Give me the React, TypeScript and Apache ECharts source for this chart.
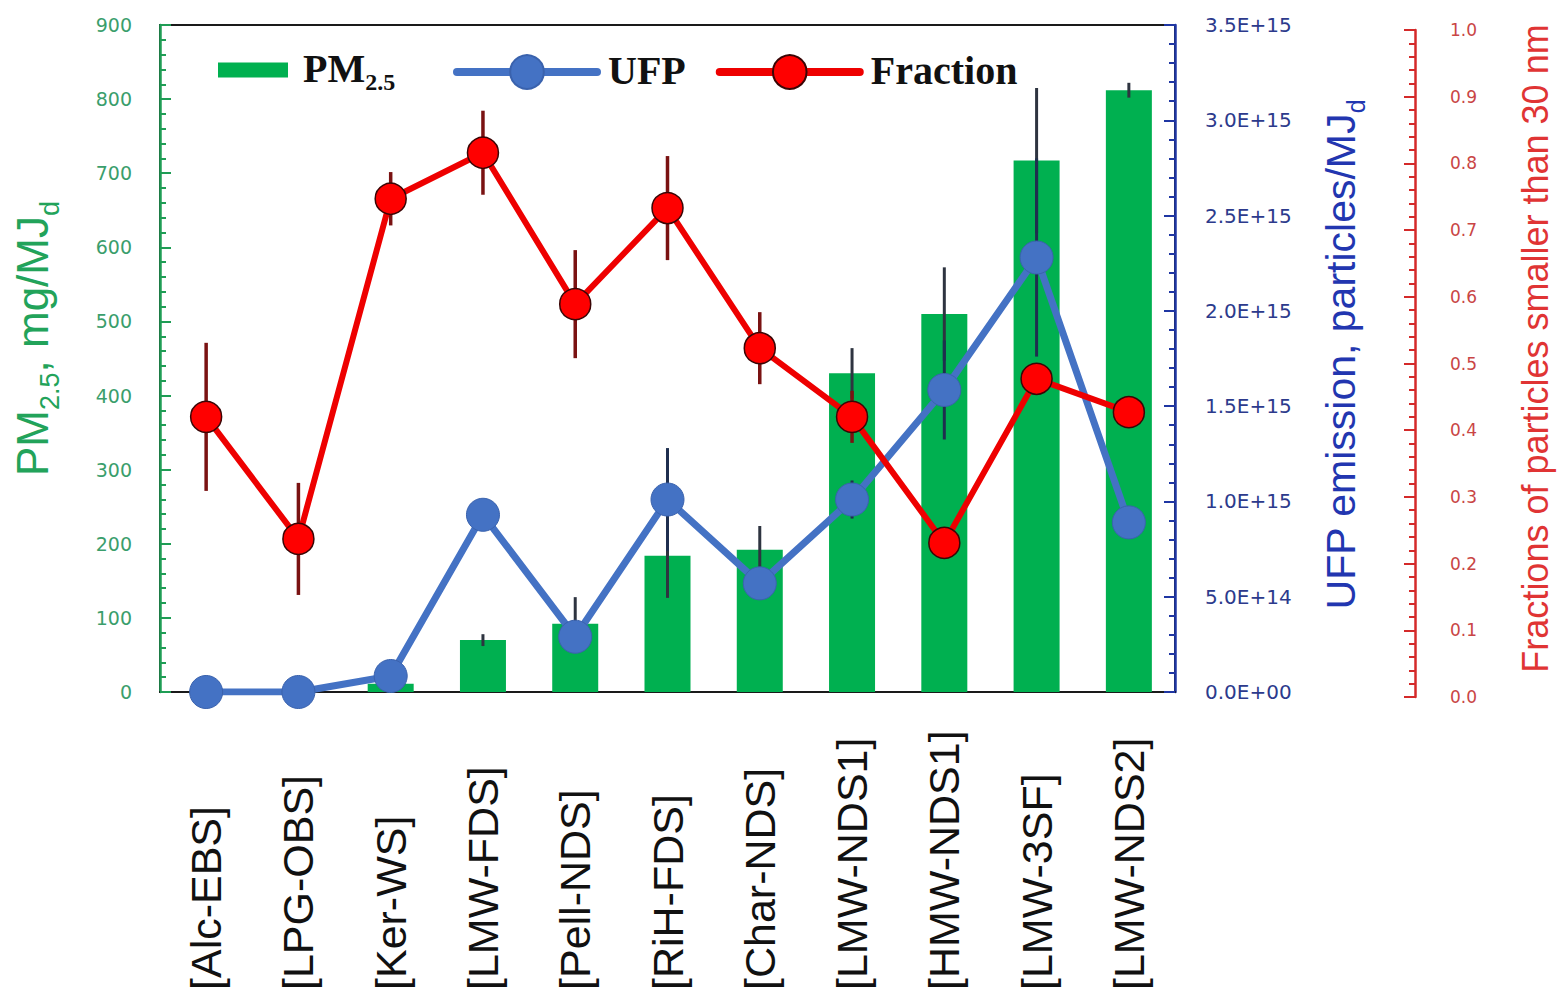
import React, { useEffect, useRef } from "react";
import * as echarts from "echarts";

const categories = [
  "[Alc-EBS]",
  "[LPG-OBS]",
  "[Ker-WS]",
  "[LMW-FDS]",
  "[Pell-NDS]",
  "[RiH-FDS]",
  "[Char-NDS]",
  "[LMW-NDS1]",
  "[HMW-NDS1]",
  "[LMW-3SF]",
  "[LMW-NDS2]",
];

// PM2.5 emission, mg/MJd
const pm25 = [0, 0, 11, 70, 92, 184, 192, 430, 510, 717, 812];
const pm25Err = [0, 0, 0, 8, 36, 57, 32, 34, 63, 98, 10];

// UFP emission, particles/MJd
const ufp = [0, 0, 8.4e13, 9.3e14, 2.9e14, 1.01e15, 5.7e14, 1.01e15, 1.585e15, 2.28e15, 8.9e14];
const ufpErr = [0, 0, 0, 0, 0, 2.7e14, 0, 1.0e14, 2.6e14, 5.2e14, 0];

// Fraction of particles smaller than 30 nm
const fraction = [0.42, 0.237, 0.747, 0.816, 0.589, 0.733, 0.523, 0.42, 0.231, 0.477, 0.427];
const fractionErr = [0.111, 0.084, 0.04, 0.063, 0.081, 0.078, 0.054, 0.039, 0, 0, 0];

const pmAxis = { min: 0, max: 900, interval: 100 };
const ufpAxis = { min: 0, max: 3.5e15, interval: 5e14 };
const fracAxis = { min: 0, max: 1, interval: 0.1 };

const GREEN = "#00b050";
const GREEN_AXIS = "#1f9d55";
const BLUE = "#4472c4";
const BLUE_AXIS = "#1f36a3";
const RED = "#ee0000";
const RED_AXIS = "#d42a2a";

function sci(v: number): string {
  if (v === 0) return "0.0E+00";
  const e = Math.floor(Math.log10(v) + 1e-9);
  const m = v / Math.pow(10, e);
  return m.toFixed(1) + "E+" + String(e).padStart(2, "0");
}

function errData(vals: number[], errs: number[]) {
  const out: number[][] = [];
  vals.forEach((v, i) => {
    if (errs[i] > 0) out.push([i, v - errs[i], v + errs[i]]);
  });
  return out;
}

function errSeries(
  name: string,
  xi: number,
  yi: number,
  data: number[][],
  color: string,
  width: number,
  z: number
) {
  return {
    type: "custom",
    name,
    xAxisIndex: xi,
    yAxisIndex: yi,
    z,
    silent: true,
    data,
    encode: { x: 0, y: [1, 2] },
    renderItem: (params: any, api: any) => {
      const x = api.value(0);
      const a = api.coord([x, api.value(1)]);
      const b = api.coord([x, api.value(2)]);
      return {
        type: "line",
        shape: { x1: a[0], y1: a[1], x2: b[0], y2: b[1] },
        style: { stroke: color, lineWidth: width },
      };
    },
  };
}

export default function App() {
  const ref = useRef<HTMLDivElement>(null);

  useEffect(() => {
    if (!ref.current) return;
    const chart = echarts.init(ref.current, undefined, { renderer: "svg" });

    const legendRich = {
      b: {
        fontFamily: "Liberation Serif",
        fontWeight: "bold",
        fontSize: 40,
        color: "#111",
        lineHeight: 44,
        verticalAlign: "top",
      },
      s: {
        fontFamily: "Liberation Serif",
        fontWeight: "bold",
        fontSize: 24,
        color: "#111",
        lineHeight: 24,
        padding: [22, 0, 0, 0],
        verticalAlign: "top",
      },
    };

    const option: any = {
      animation: false,
      backgroundColor: "#ffffff",
      grid: [
        {
          left: 160,
          right: 387,
          top: 25,
          bottom: 311,
          show: true,
          borderColor: "#1a1a1a",
          borderWidth: 2,
          backgroundColor: "transparent",
        },
        { left: 160, right: 387, top: 30, bottom: 306, show: false },
      ],
      legend: [
        {
          left: 218,
          top: 48,
          padding: 0,
          itemWidth: 70,
          itemHeight: 15,
          selectedMode: false,
          data: [{ name: "PM2.5", icon: "rect" }],
          formatter: () => "{b|PM}{s|2.5}",
          textStyle: { padding: [0, 0, 0, 10], rich: legendRich },
        },
        {
          left: 453,
          top: 50,
          padding: 0,
          itemWidth: 140,
          itemHeight: 42,
          itemGap: 30,
          selectedMode: false,
          lineStyle: { width: 8, cap: "round" },
          data: ["UFP", "Fraction"],
          formatter: (n: string) => "{b|" + n + "}",
          textStyle: { padding: [0, 0, 0, 6], rich: legendRich },
        },
      ],
      xAxis: [
        {
          type: "category",
          gridIndex: 0,
          data: categories,
          axisLine: { show: true, lineStyle: { color: "#1a1a1a", width: 2 } },
          axisTick: { show: false },
          axisLabel: {
            rotate: 90,
            interval: 0,
            margin: 298,
            align: "left",
            verticalAlign: "middle",
            fontFamily: "Liberation Sans",
            fontSize: 43,
            color: "#111",
          },
        },
        {
          type: "category",
          gridIndex: 1,
          data: categories,
          show: false,
        },
      ],
      yAxis: [
        {
          type: "value",
          gridIndex: 0,
          position: "left",
          ...pmAxis,
          name: "{a|PM}{s|2.5}{a|, mg/MJ}{s|d}",
          nameLocation: "middle",
          nameRotate: 90,
          nameGap: 100,
          nameTextStyle: {
            padding: [0, 0, 0, 40],
            rich: {
              a: {
                fontFamily: "Liberation Sans",
                fontSize: 44,
                color: "#22a35a",
                lineHeight: 50,
                verticalAlign: "top",
              },
              s: {
                fontFamily: "Liberation Sans",
                fontSize: 27,
                color: "#22a35a",
                lineHeight: 27,
                padding: [26, 0, 0, 0],
                verticalAlign: "top",
              },
            },
          },
          axisLine: { show: true, lineStyle: { color: GREEN_AXIS, width: 2.5 } },
          axisTick: { show: true, inside: true, length: 11, lineStyle: { color: GREEN_AXIS, width: 2 } },
          minorTick: { show: true, splitNumber: 5, length: 6, lineStyle: { color: GREEN_AXIS, width: 2 } },
          splitLine: { show: false },
          axisLabel: {
            margin: 28,
            fontFamily: "DejaVu Sans",
            fontSize: 19,
            color: "#3a9e6c",
          },
        },
        {
          type: "value",
          gridIndex: 0,
          position: "right",
          ...ufpAxis,
          name: "{a|UFP emission, particles/MJ}{s|d}",
          nameLocation: "middle",
          nameRotate: 90,
          nameGap: 145,
          nameTextStyle: {
            padding: [0, 0, 0, 8],
            rich: {
              a: {
                fontFamily: "Liberation Sans",
                fontSize: 41,
                color: "#2236b0",
                lineHeight: 46,
                verticalAlign: "top",
              },
              s: {
                fontFamily: "Liberation Sans",
                fontSize: 25,
                color: "#2236b0",
                lineHeight: 25,
                padding: [23, 0, 0, 0],
                verticalAlign: "top",
              },
            },
          },
          axisLine: { show: true, lineStyle: { color: BLUE_AXIS, width: 2.5 } },
          axisTick: { show: true, inside: true, length: 11, lineStyle: { color: BLUE_AXIS, width: 2 } },
          minorTick: { show: true, splitNumber: 5, length: 6, lineStyle: { color: BLUE_AXIS, width: 2 } },
          splitLine: { show: false },
          axisLabel: {
            margin: 30,
            fontFamily: "DejaVu Sans",
            fontSize: 20,
            color: "#2c3a8c",
            formatter: (v: number) => sci(v),
          },
        },
        {
          type: "value",
          gridIndex: 1,
          position: "right",
          offset: 240,
          ...fracAxis,
          name: "Fractions of particles smaller than 30 nm",
          nameLocation: "middle",
          nameRotate: 90,
          nameGap: 102,
          nameTextStyle: {
            fontFamily: "Liberation Sans",
            fontSize: 36,
            color: "#e03434",
            padding: [0, 0, 0, 30],
          },
          axisLine: { show: true, lineStyle: { color: RED_AXIS, width: 2.5 } },
          axisTick: { show: true, inside: true, length: 11, lineStyle: { color: RED_AXIS, width: 2 } },
          minorTick: { show: true, splitNumber: 5, length: 6, lineStyle: { color: RED_AXIS, width: 2 } },
          splitLine: { show: false },
          axisLabel: {
            margin: 35,
            fontFamily: "DejaVu Sans",
            fontSize: 17,
            color: "#c94545",
            padding: [0, 0, 12, 0],
            formatter: (v: number) => v.toFixed(1),
          },
        },
      ],
      series: [
        {
          type: "bar",
          name: "PM2.5",
          xAxisIndex: 0,
          yAxisIndex: 0,
          data: pm25,
          barWidth: 46,
          itemStyle: { color: GREEN },
          z: 2,
        },
        errSeries("pmErr", 0, 0, errData(pm25, pm25Err), "#2e3440", 3, 3),
        errSeries("ufpErr", 0, 1, errData(ufp, ufpErr), "#1f2f4f", 3, 4),
        {
          type: "line",
          name: "UFP",
          xAxisIndex: 0,
          yAxisIndex: 1,
          data: ufp,
          symbol: "circle",
          symbolSize: 33,
          lineStyle: { color: BLUE, width: 7 },
          itemStyle: { color: BLUE, borderColor: "#3a62ad", borderWidth: 1 },
          z: 5,
        },
        errSeries("fracErr", 1, 2, errData(fraction, fractionErr), "#7a1212", 3.5, 6),
        {
          type: "line",
          name: "Fraction",
          xAxisIndex: 1,
          yAxisIndex: 2,
          data: fraction,
          symbol: "circle",
          symbolSize: 31,
          lineStyle: { color: RED, width: 6 },
          itemStyle: { color: "#ff0000", borderColor: "#3a0505", borderWidth: 1.5 },
          z: 7,
        },
      ],
    };

    chart.setOption(option);
    return () => chart.dispose();
  }, []);

  return (
    <div
      ref={ref}
      style={{ position: "fixed", left: 0, top: 0, width: 1562, height: 1003, background: "#fff" }}
    />
  );
}
